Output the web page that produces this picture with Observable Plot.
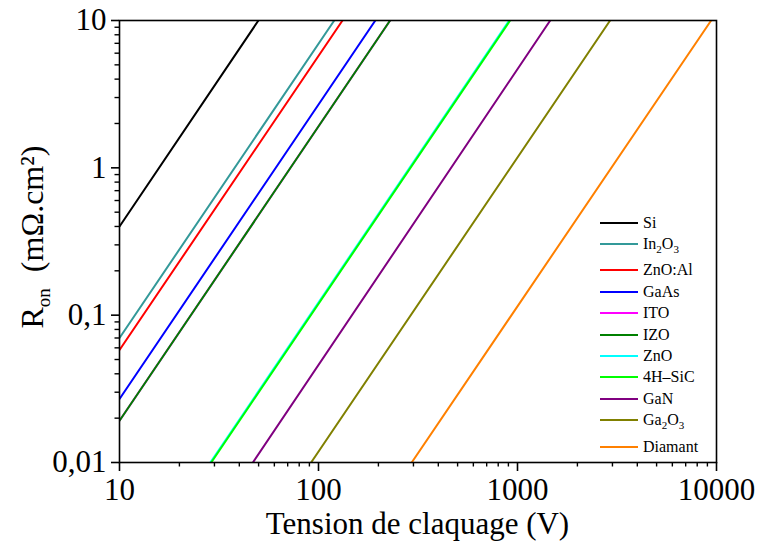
<!DOCTYPE html>
<html><head><meta charset="utf-8">
<script src="https://cdn.jsdelivr.net/npm/d3@7"></script>
<script src="https://cdn.jsdelivr.net/npm/@observablehq/plot@0.6"></script>
<style>
body{margin:0;background:#fff;}
#wrap{position:relative;width:758px;height:542px;font-family:"Liberation Serif",serif;}
#legend{position:absolute;left:600px;top:212px;font-family:"Liberation Serif",serif;}
.row{display:flex;align-items:center;height:21.4px;}
.row.sub{margin-bottom:5px;}
.sw{width:38px;height:2px;margin-right:5px;}
.lab{font-family:"Liberation Serif",serif;font-size:16px;color:#000;line-height:1;white-space:nowrap;}
.lab sub{font-size:11px;vertical-align:baseline;position:relative;top:4px;}
</style></head><body><div id="wrap"></div>
<script>
// Materials (drawing order = legend order)
const names = ["Si","In2O3","ZnO:Al","GaAs","ITO","IZO","ZnO","4H–SiC","GaN","Ga2O3","Diamant"];
const legendLabels = ["Si","In<sub>2</sub>O<sub>3</sub>","ZnO:Al","GaAs","ITO","IZO","ZnO","4H–SiC","GaN","Ga<sub>2</sub>O<sub>3</sub>","Diamant"];
const colors = ["#000000","#339999","#ff0000","#0000ff","#ff00ff","#008000","#00ffff","#00ff00","#800080","#808000","#ff8000"];
// Line endpoints: breakdown voltage (V) and Ron (mΩ.cm²)
const vStart = [10, 10, 10, 10, 10, 10, 28.6, 28.9, 46.8, 91.8, 294];
const rStart = [0.40, 0.070, 0.058, 0.027, 0.0192, 0.0192, 0.01, 0.01, 0.01, 0.01, 0.01];
const vEnd   = [49.9, 120, 132, 193, 229, 229, 908, 918, 1460, 2920, 9400];
const rEnd   = [10, 10, 10, 10, 10, 10, 10, 10, 10, 10, 10];
// Axis ticks
const xMajor = [10, 100, 1000, 10000];
const xMinor = [20,30,40,50,60,70,80,90,200,300,400,500,600,700,800,900,2000,3000,4000,5000,6000,7000,8000,9000];
const yMajor = [0.01, 0.1, 1, 10];
const yMinor = [0.02,0.03,0.04,0.05,0.06,0.07,0.08,0.09,0.2,0.3,0.4,0.5,0.6,0.7,0.8,0.9,2,3,4,5,6,7,8,9];
const xTitle = "Tension de claquage (V)";

const rows = names.flatMap((n, i) => [
  {name: n, V: vStart[i], R: rStart[i]},
  {name: n, V: vEnd[i], R: rEnd[i]}
]);
const fmt = d => String(d).replace(".", ",");

const chart = Plot.plot({
  width: 758, height: 542,
  marginLeft: 119, marginRight: 42, marginTop: 20, marginBottom: 80,
  style: {fontFamily: "Liberation Serif", background: "white", color: "black", overflow: "visible"},
  x: {type: "log", domain: [10, 10000]},
  y: {type: "log", domain: [0.01, 10]},
  color: {domain: names, range: colors},
  marks: [
    Plot.line(rows, {x: "V", y: "R", z: "name", stroke: "name", strokeWidth: 2, clip: true}),
    Plot.frame({stroke: "black", strokeWidth: 1.6}),
    Plot.axisX(xMajor, {tickSize: 9, tickPadding: 6, tickFormat: fmt, fontSize: 31, label: null, strokeWidth: 1.6}),
    Plot.axisX(xMinor, {tickSize: 4.5, fill: "none", label: null, strokeWidth: 1.4}),
    Plot.axisY(yMajor, {tickSize: 8, tickPadding: 5, tickFormat: fmt, fontSize: 31, label: null, strokeWidth: 1.6}),
    Plot.axisY(yMinor, {tickSize: 4.5, fill: "none", label: null, strokeWidth: 1.4})
  ]
});

const svg = d3.select(chart);
const xr = chart.scale("x").range, yr = chart.scale("y").range;
svg.append("text")
  .attr("x", (xr[0] + xr[1]) / 2).attr("y", 534)
  .attr("text-anchor", "middle").attr("font-size", 31).attr("fill", "black")
  .text(xTitle);
const t = svg.append("text")
  .attr("transform", `translate(43,${(yr[0] + yr[1]) / 2 - 4}) rotate(-90)`)
  .attr("text-anchor", "middle").attr("font-size", 32).attr("fill", "black");
t.append("tspan").text("R");
t.append("tspan").attr("font-size", 19).attr("dy", 7).text("on");
t.append("tspan").attr("dy", -7).text("\u2002(mΩ.cm²)");

const wrap = document.getElementById("wrap");
wrap.appendChild(chart);
const leg = d3.select(wrap).append("div").attr("id", "legend");
names.forEach((n, i) => {
  const r = leg.append("div").attr("class", "row" + (legendLabels[i].includes("<sub>") ? " sub" : ""));
  r.append("div").attr("class", "sw").style("background", colors[i]);
  r.append("div").attr("class", "lab").html(legendLabels[i]);
});
</script></body></html>
